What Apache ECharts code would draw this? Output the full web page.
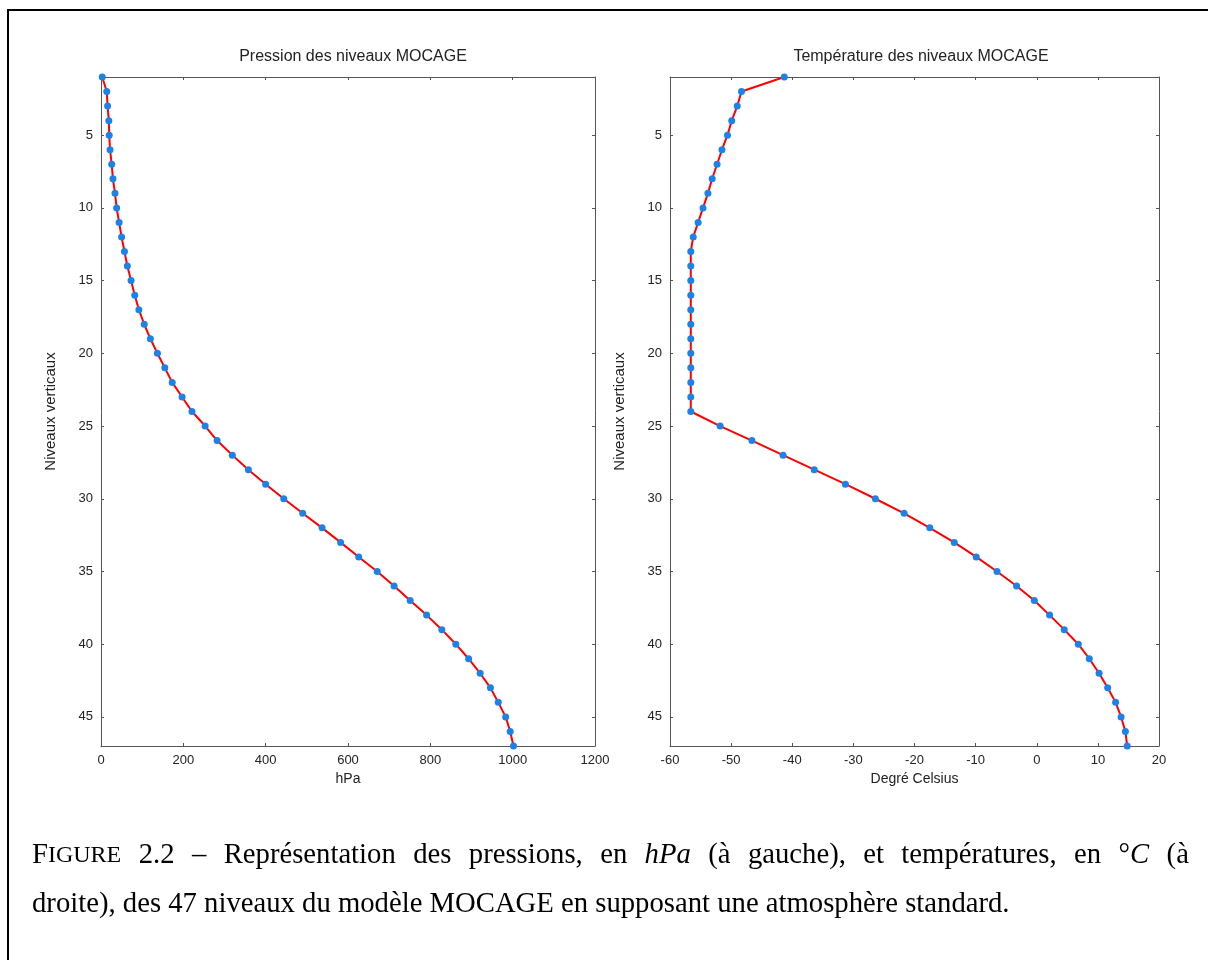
<!DOCTYPE html>
<html>

<head>
    <meta charset="UTF-8" />
    <script src="https://cdn.jsdelivr.net/npm/echarts@6.0.0/dist/echarts.min.js"></script>
    <style>
        html, body { margin: 0; padding: 0; background: #fff; }
        #chart { width: 1208px; height: 960px; }
    </style>
</head>

<body>
    <div id="chart"></div>
    <script type="text/javascript">

        // niveaux verticaux du modele
        const levels = [1, 2, 3, 4, 5, 6, 7, 8, 9, 10, 11, 12, 13, 14, 15, 16, 17, 18, 19, 20,
            21, 22, 23, 24, 25, 26, 27, 28, 29, 30, 31, 32, 33, 34, 35, 36, 37, 38, 39, 40,
            41, 42, 43, 44, 45, 46, 47];

        // pression (hPa)
        const pressure = [3, 14, 16, 19, 20, 22, 26, 29, 34, 38, 44, 50, 57, 64, 73, 82, 92, 105, 120, 137,
            155, 173, 197, 221, 253, 282, 319, 358, 400, 444, 490, 537, 582, 626, 671, 712, 751, 791, 828, 862,
            893, 921, 946, 965, 983, 994, 1002];

        // temperature (degre Celsius)
        const temperature = [-41.3, -48.3, -49.0, -49.9, -50.6, -51.5, -52.3, -53.1, -53.8, -54.6, -55.4, -56.2,
            -56.6, -56.6, -56.6, -56.6, -56.6, -56.6, -56.6, -56.6, -56.6, -56.6, -56.6, -56.6,
            -51.8, -46.6, -41.5, -36.4, -31.3, -26.4, -21.7, -17.5, -13.5, -9.9, -6.5, -3.3, -0.4,
            2.1, 4.5, 6.8, 8.6, 10.2, 11.6, 12.9, 13.8, 14.5, 14.8];

        const yTicks = [5, 10, 15, 20, 25, 30, 35, 40, 45];

        const titles = ['Pression des niveaux MOCAGE', 'Température des niveaux MOCAGE'];
        const xNames = ['hPa', 'Degré Celsius'];
        const yName = 'Niveaux verticaux';

        const chart = echarts.init(document.getElementById('chart'));

        const sans = 'Liberation Sans, Arial, sans-serif';
        const serif = 'Liberation Serif, Times New Roman, serif';
        const axisColor = '#555';

        function xAx(grid, min, max, step, name, top) {
            return {
                type: 'value', gridIndex: grid, min: min, max: max, interval: step,
                position: top ? 'top' : 'bottom',
                name: top ? '' : name, nameLocation: 'middle', nameGap: 25,
                nameTextStyle: { fontFamily: sans, fontSize: 14, color: '#222' },
                splitLine: { show: false },
                axisLine: { show: true, onZero: false, lineStyle: { color: axisColor, width: 1 } },
                axisTick: { show: true, inside: true, length: 3, lineStyle: { color: axisColor } },
                axisLabel: {
                    show: !top, margin: 8, fontFamily: sans, fontSize: 13, color: '#222',
                    formatter: v => String(v)
                }
            };
        }

        function yAx(grid, right) {
            return {
                type: 'value', gridIndex: grid, min: 1, max: 47, inverse: true,
                position: right ? 'right' : 'left',
                name: right ? '' : yName, nameLocation: 'middle', nameGap: 43,
                nameTextStyle: { fontFamily: sans, fontSize: 15, color: '#222' },
                splitLine: { show: false },
                axisLine: { show: true, onZero: false, lineStyle: { color: axisColor, width: 1 } },
                axisTick: { show: true, inside: true, length: 3, customValues: yTicks, lineStyle: { color: axisColor } },
                axisLabel: { show: !right, margin: 8, customValues: yTicks, fontFamily: sans, fontSize: 13, color: '#222' }
            };
        }

        function lineSerie(xi, yi, values) {
            return {
                type: 'line', xAxisIndex: xi, yAxisIndex: yi,
                data: values.map((v, i) => [v, levels[i]]),
                symbol: 'circle', symbolSize: 7,
                itemStyle: { color: '#1c82e8' },
                lineStyle: { color: '#ff0000', width: 2 },
                silent: true, animation: false
            };
        }

        // legende de la figure : premiere ligne justifiee (espaces elargis)
        const captionWords = ['{n|F}{sc|IGURE}', '{n|2.2}', '{n|–}', '{n|Représentation}', '{n|des}',
            '{n|pressions,}', '{n|en}', '{m|hPa}', '{n|(à}', '{n|gauche),}', '{n|et}', '{n|températures,}',
            '{n|en}', '{d|°}{m|C}', '{n|(à}'];
        const captionLine2 = 'droite), des 47 niveaux du modèle MOCAGE en supposant une atmosphère standard.';

        const capSize = 28.7;

        const option = {
            backgroundColor: '#fff',
            animation: false,
            title: [
                { text: titles[0], left: 348, top: 44, textAlign: 'center', textStyle: { fontFamily: sans, fontSize: 16, fontWeight: 'normal', color: '#222' } },
                { text: titles[1], left: 916, top: 44, textAlign: 'center', textStyle: { fontFamily: sans, fontSize: 16, fontWeight: 'normal', color: '#222' } }
            ],
            grid: [
                { left: 101, top: 77, width: 494, height: 669 },
                { left: 670, top: 77, width: 489, height: 669 }
            ],
            xAxis: [
                xAx(0, 0, 1200, 200, xNames[0], false),
                xAx(0, 0, 1200, 200, '', true),
                xAx(1, -60, 20, 10, xNames[1], false),
                xAx(1, -60, 20, 10, '', true)
            ],
            yAxis: [yAx(0, false), yAx(0, true), yAx(1, false), yAx(1, true)],
            series: [
                lineSerie(0, 0, pressure),
                lineSerie(2, 2, temperature)
            ],
            graphic: [
                {
                    type: 'rect', shape: { x: 8, y: 10, width: 1230, height: 980 },
                    style: { fill: 'none', stroke: '#000', lineWidth: 2 }, silent: true
                },
                {
                    type: 'text', left: 32, top: 841,
                    style: {
                        text: captionWords.join('{s| }'),
                        rich: {
                            n: { fontFamily: serif, fontSize: capSize, fill: '#000' },
                            sc: { fontFamily: serif, fontSize: 24, fill: '#000' },
                            d: { fontFamily: serif, fontSize: capSize, fill: '#000' },
                            m: { fontFamily: serif, fontSize: capSize, fontStyle: 'italic', fill: '#000' },
                            s: { fontFamily: serif, fontSize: capSize, width: 17.4 }
                        }
                    }
                },
                {
                    type: 'text', left: 32, top: 890,
                    style: {
                        text: captionLine2,
                        fontFamily: serif, fontSize: capSize, fill: '#000'
                    }
                }
            ]
        };

        chart.setOption(option);

    </script>
</body>

</html>
